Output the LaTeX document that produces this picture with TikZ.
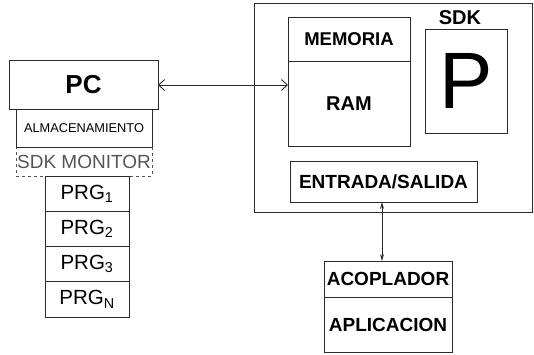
\documentclass[tikz,border=0pt]{standalone}
\usepackage{fontspec}
\setmainfont{Liberation Sans}
\usetikzlibrary{arrows.meta}
\definecolor{ln}{HTML}{2A2A2A}
\definecolor{gr}{HTML}{555555}
\tikzset{
  box/.style={draw=ln, line width=0.9pt, inner sep=0pt, outer sep=0pt, anchor=north west},
  prg/.style={box, minimum width=84pt, minimum height=35.25pt, font=\fontsize{20.5}{20.5}\selectfont},
  big/.style={font=\bfseries\fontsize{19}{19}\selectfont},
}
\begin{document}
\begin{tikzpicture}[x=1pt,y=-1pt]
\useasboundingbox (0,0) rectangle (534,354);
% big SDK box
\node[box, minimum width=278pt, minimum height=209pt] (sdk) at (254,3) {};
\node[font=\bfseries\fontsize{20}{20}\selectfont] (sdklbl) at (460,18) {SDK};
% PC side
\node[box, minimum width=149pt, minimum height=49pt, font=\bfseries\fontsize{26}{26}\selectfont] (pc) at (9,60) {PC};
\node[box, minimum width=136pt, minimum height=38pt, font=\fontsize{12.8}{12.8}\selectfont] (alm) at (16,109) {ALMACENAMIENTO};
\node[box, draw=gr, dashed, minimum width=136pt, minimum height=29pt, text=gr, font=\fontsize{19}{19}\selectfont] (mon) at (16,147) {SDK MONITOR};
\draw[ln, line width=0.9pt] (alm.south west) -- (alm.south east);
\node[prg] (p1) at (45,176) {PRG$_{\mathrm{1}}$};
\node[prg] (p2) at (45,211.25) {PRG$_{\mathrm{2}}$};
\node[prg] (p3) at (45,246.5) {PRG$_{\mathrm{3}}$};
\node[prg] (pn) at (45,281.75) {PRG$_{\mathrm{N}}$};
% memory
\node[box, minimum width=122pt, minimum height=44pt, font=\bfseries\fontsize{18.5}{18.5}\selectfont] (mem) at (288,17) {MEMORIA};
\node[box, minimum width=122pt, minimum height=85pt, font=\bfseries\fontsize{20}{20}\selectfont] (ram) at (288,61) {RAM};
% P box
\node[box, minimum width=82pt, minimum height=104pt, font=\fontsize{80}{80}\selectfont] (pbox) at (425,29) {P};
% entrada
\node[box, minimum width=187pt, minimum height=41pt, big] (io) at (290,161) {ENTRADA/SALIDA};
% acoplador
\node[box, minimum width=128pt, minimum height=36pt, big] (acop) at (324,261) {ACOPLADOR};
\node[box, minimum width=128pt, minimum height=55pt, big] (apl) at (324,297) {APLICACION};
% connectors
\coordinate (pcr) at (158,85);
\draw[ln, line width=0.9pt, {Straight Barb[length=6pt,width=11pt]}-{Straight Barb[length=6pt,width=11pt]}] (pcr) -- (pcr -| ram.west);
\coordinate (iob) at (382,202);
\draw[ln, line width=0.9pt, {Stealth[length=7pt,width=4pt]}-{Stealth[length=7pt,width=4pt]}] (iob) -- (iob |- acop.north);
\end{tikzpicture}
\end{document}
